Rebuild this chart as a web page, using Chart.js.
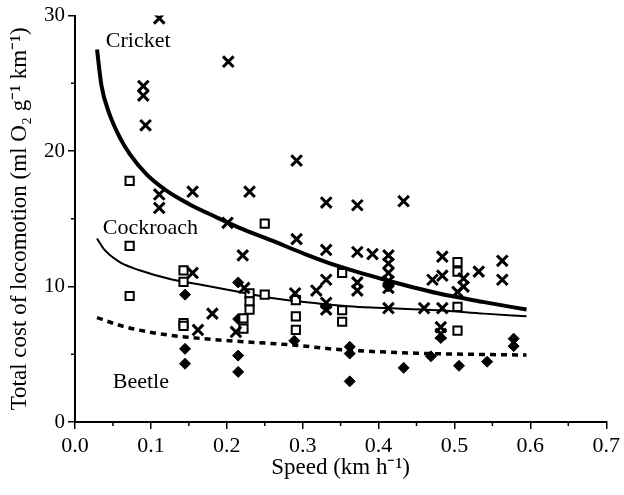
<!DOCTYPE html>
<html><head><meta charset="utf-8">
<script src="https://cdn.jsdelivr.net/npm/chart.js@4/dist/chart.umd.min.js"></script>
<style>html,body{margin:0;padding:0;background:#fff;}canvas{display:block}</style>
</head><body>
<canvas id="c" width="624" height="495"></canvas>
<script>
// ---- data ----
const cricketX = [0.111,0.202,0.090,0.090,0.093,0.111,0.111,0.155,0.230,0.292,0.331,0.372,0.433,0.155,0.162,0.181,0.221,0.201,0.223,0.212,0.292,0.331,0.372,0.392,0.413,0.413,0.413,0.413,0.413,0.331,0.318,0.331,0.331,0.372,0.372,0.413,0.460,0.484,0.484,0.484,0.471,0.512,0.512,0.504,0.532,0.563,0.563,0.482,0.482,0.290];
const cricketY = [29.8,26.6,24.8,24.1,21.9,16.8,15.8,17.0,17.0,19.3,16.2,16.0,16.3,11.0,6.8,8.0,12.3,14.7,9.9,6.65,13.5,12.7,12.55,12.4,12.3,11.7,11.0,10.4,9.9,10.5,9.7,8.8,8.3,10.3,9.7,8.4,8.4,8.4,12.2,10.8,10.5,10.6,10.0,9.6,11.1,11.9,10.5,7.0,6.5,9.5];

const cockroachX = [0.072,0.072,0.072,0.143,0.143,0.143,0.143,0.250,0.230,0.230,0.230,0.222,0.222,0.250,0.291,0.291,0.291,0.352,0.352,0.352,0.504,0.504,0.504,0.504];
const cockroachY = [17.8,13.0,9.3,11.2,10.35,7.3,7.1,14.65,9.5,8.9,8.3,7.65,6.9,9.4,9.0,7.8,6.8,11.0,8.25,7.4,11.8,11.1,8.5,6.75];

const beetleX = [0.145,0.145,0.145,0.215,0.215,0.215,0.215,0.289,0.331,0.362,0.362,0.362,0.433,0.469,0.482,0.506,0.543,0.578,0.578,0.413];
const beetleY = [9.4,5.4,4.3,10.3,7.6,4.9,3.7,6.0,8.5,5.55,5.05,3.0,4.0,4.85,6.2,4.15,4.45,6.15,5.6,10.0];

// fitted curves as drawn in the figure
const cricketCurveX = [0.029,0.035,0.045,0.06,0.072,0.094,0.12,0.15,0.185,0.216,0.259,0.303,0.347,0.408,0.478,0.539,0.595];
const cricketCurveY = [27.5,24.8,22.8,20.9,19.8,18.3,17.1,16.1,15.15,14.35,13.4,12.4,11.5,10.5,9.5,8.85,8.3];
const cockroachCurveX = [0.029,0.039,0.059,0.085,0.129,0.159,0.203,0.259,0.32,0.36,0.39,0.478,0.539,0.595];
const cockroachCurveY = [13.55,12.7,11.8,11.2,10.5,10.2,9.75,9.15,8.75,8.55,8.45,8.25,8.0,7.8];
const beetleCurveX = [0.029,0.063,0.107,0.15,0.203,0.29,0.347,0.451,0.595];
const beetleCurveY = [7.7,7.07,6.55,6.25,6.0,5.67,5.35,5.08,4.94];

const xMajorTicks = [0,0.1,0.2,0.3,0.4,0.5,0.6,0.7];
const xMinorTicks = [0.05,0.15,0.25,0.35,0.45,0.55,0.65];
const yMinorTicks = [5,15,25];

const curveNames = ['Cricket','Cockroach','Beetle'];
const nameAnchorX = [0.0406,0.0366,0.0497];
const nameAnchorY = [28.1,14.3,2.9];

const xTitle = 'Speed (km h\u207B\u00B9)';
const yTitle = 'Total cost of locomotion (ml O\u2082 g\u207B\u00B9 km\u207B\u00B9)';

// ---- build ----
const pts = (xs, ys) => xs.map((x, i) => ({x, y: ys[i]}));
const FONT = "'Liberation Serif', 'Times New Roman', serif";

const minorTickPlugin = {
  id: 'minorTicks',
  afterDraw(chart) {
    const {ctx, scales: {x, y}} = chart;
    ctx.save();
    ctx.strokeStyle = '#000';
    ctx.lineWidth = 1.5;
    ctx.beginPath();
    xMinorTicks.forEach(v => { const px = x.getPixelForValue(v); ctx.moveTo(px, x.top); ctx.lineTo(px, x.top + 4); });
    yMinorTicks.forEach(v => { const py = y.getPixelForValue(v); ctx.moveTo(y.right - 4, py); ctx.lineTo(y.right, py); });
    ctx.stroke();
    ctx.restore();
  }
};

const namePlugin = {
  id: 'curveNames',
  afterDatasetsDraw(chart) {
    const {ctx, scales: {x, y}} = chart;
    ctx.save();
    ctx.fillStyle = '#000';
    ctx.font = '22px ' + FONT;
    ctx.textAlign = 'left';
    ctx.textBaseline = 'middle';
    curveNames.forEach((t, i) => ctx.fillText(t, x.getPixelForValue(nameAnchorX[i]), y.getPixelForValue(nameAnchorY[i])));
    ctx.restore();
  }
};

new Chart(document.getElementById('c'), {
  type: 'scatter',
  data: {
    datasets: [
      {label: 'Cricket fit', data: pts(cricketCurveX, cricketCurveY), showLine: true, pointRadius: 0, borderColor: '#000', borderWidth: 4, cubicInterpolationMode: 'monotone', order: 3},
      {label: 'Cockroach fit', data: pts(cockroachCurveX, cockroachCurveY), showLine: true, pointRadius: 0, borderColor: '#000', borderWidth: 2, cubicInterpolationMode: 'monotone', order: 3},
      {label: 'Beetle fit', data: pts(beetleCurveX, beetleCurveY), showLine: true, pointRadius: 0, borderColor: '#000', borderWidth: 3.5, borderDash: [6, 5], cubicInterpolationMode: 'monotone', order: 3},
      {label: 'Beetle', data: pts(beetleX, beetleY), pointStyle: 'rectRot', pointRadius: 5.5, backgroundColor: '#000', borderColor: '#000', borderWidth: 1, order: 2},
      {label: 'Cockroach', data: pts(cockroachX, cockroachY), pointStyle: 'rect', pointRadius: 5.8, backgroundColor: '#fff', borderColor: '#000', borderWidth: 2, order: 1},
      {label: 'Cricket', data: pts(cricketX, cricketY), pointStyle: 'crossRot', pointRadius: 7.5, borderColor: '#000', borderWidth: 3, order: 0}
    ]
  },
  options: {
    responsive: false,
    animation: false,
    devicePixelRatio: 1,
    layout: {padding: {top: 15, right: 14, left: 0, bottom: 0}},
    plugins: {legend: {display: false}, tooltip: {enabled: false}},
    scales: {
      x: {
        type: 'linear', min: 0, max: 0.7,
        afterBuildTicks: s => { s.ticks = xMajorTicks.map(v => ({value: v})); },
        afterFit: s => { s.height = 73; },
        ticks: {callback: v => Number(v).toFixed(1), color: '#000', font: {family: FONT, size: 22}, padding: 4, maxRotation: 0, autoSkip: false},
        grid: {drawOnChartArea: false, drawTicks: true, tickLength: 7, color: '#000', lineWidth: 1.5},
        border: {color: '#000', width: 2},
        title: {display: true, text: xTitle, color: '#000', font: {family: FONT, size: 23}, padding: {top: 0, bottom: 13}}
      },
      y: {
        type: 'linear', min: 0, max: 30,
        afterFit: s => { s.width = 75; },
        ticks: {stepSize: 10, color: '#000', font: {family: FONT, size: 21}, padding: 3},
        grid: {drawOnChartArea: false, drawTicks: true, tickLength: 7, color: '#000', lineWidth: 1.5},
        border: {color: '#000', width: 2},
        title: {display: true, text: yTitle, color: '#000', font: {family: FONT, size: 23}, padding: {top: 6, bottom: 0}}
      }
    }
  },
  plugins: [minorTickPlugin, namePlugin]
});
</script>
</body></html>
